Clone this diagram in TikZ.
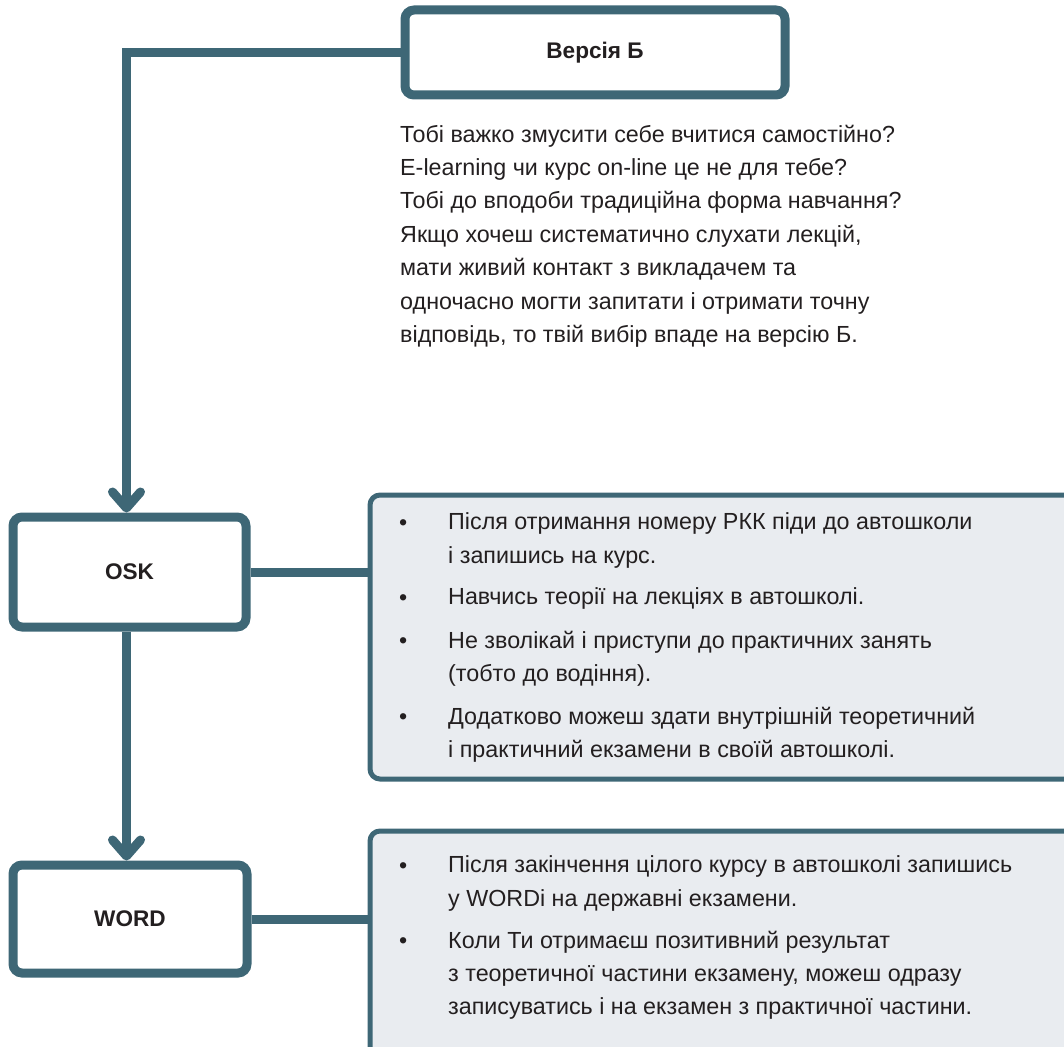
\documentclass[tikz,border=0pt]{standalone}
\usepackage{fontspec}
\setmainfont{Liberation Sans}
\usetikzlibrary{arrows.meta, positioning}
\definecolor{slate}{RGB}{62,103,118}
\definecolor{panelgray}{RGB}{233,236,240}
\definecolor{inkgray}{RGB}{35,31,32}

\begin{document}
\begin{tikzpicture}[x=1pt, y=-1pt, text=inkgray,
  font=\fontsize{23.3}{33.4}\selectfont,
  >={Straight Barb[length=16pt, width=28pt, line cap=round, line join=round]}]

\path[use as bounding box, clip] (0,0) rectangle (1064,1046);

\tikzset{
  stagebox/.style={draw=slate, line width=9pt, rounded corners=9pt, fill=white,
                   inner sep=0pt, font=\fontsize{22.6}{26}\bfseries\selectfont},
  infopanel/.style={draw=slate, line width=5pt, rounded corners=10pt,
                    fill=panelgray, inner sep=0pt},
  link/.style={draw=slate, line width=9pt},
  dot/.style={anchor=base west, inner sep=0pt},
  % first baseline sits on the given coordinate
  itemtext/.style={anchor=north west, yshift=16.4pt, inner sep=0pt, align=left,
                   execute at begin node=\strut}
}

% stage boxes
\node[stagebox, minimum width=380, minimum height=85]  (vb)   at (595,52.5) {Версія Б};
\node[stagebox, minimum width=233, minimum height=110] (osk)  at (129.5,572) {OSK};
\node[stagebox, minimum width=234, minimum height=108] (word) at (130,919)  {WORD};

% info panels
\node[infopanel, minimum width=720, minimum height=284] (panelosk)  at (730,637)   {};
\node[infopanel, minimum width=720, minimum height=259] (panelword) at (730,960.5) {};

% intro text
\node[itemtext] (intro) at (400,141) {Тобі важко змусити себе вчитися самостійно?\\
  E-learning чи курс on-line це не для тебе?\\
  Тобі до вподоби традиційна форма навчання?\\
  Якщо хочеш систематично слухати лекцій,\\
  мати живий контакт з викладачем та\\
  одночасно могти запитати і отримати точну\\
  відповідь, то твій вибір впаде на версію Б.};

% OSK items
\node[dot] (d1) at (399,530) {•};
\node[itemtext] (t1) at (448,529) {Після отримання номеру РКК піди до автошколи\\і запишись на курс.};
\node[dot] (d2) at (399,605) {•};
\node[itemtext] (t2) at (448,597) {Навчись теорії на лекціях в автошколі.};
\node[dot] (d3) at (399,648) {•};
\node[itemtext] (t3) at (448,647) {Не зволікай і приступи до практичних занять\\(тобто до водіння).};
\node[dot] (d4) at (399,724) {•};
\node[itemtext] (t4) at (448,723) {Додатково можеш здати внутрішній теоретичний\\і практичний екзамени в своїй автошколі.};

% WORD items
\node[dot] (d5) at (399,873) {•};
\node[itemtext] (t5) at (448,872) {Після закінчення цілого курсу в автошколі запишись\\у WORDі на державні екзамени.};
\node[dot] (d6) at (399,948) {•};
\node[itemtext] (t6) at (448,947) {Коли Ти отримаєш позитивний результат\\з теоретичної частини екзамену, можеш одразу\\записуватись і на екзамен з практичної частини.};

% connectors
\coordinate (trunk) at (126.5,52.5);
\draw[link, ->] (vb.west) -- (trunk) -- (trunk |- osk.north);
\draw[link, ->] (trunk |- osk.south) -- (trunk |- word.north);
\draw[link] (osk.east) -- (osk.east -| panelosk.west);
\draw[link] (word.east) -- (word.east -| panelword.west);

\end{tikzpicture}
\end{document}
